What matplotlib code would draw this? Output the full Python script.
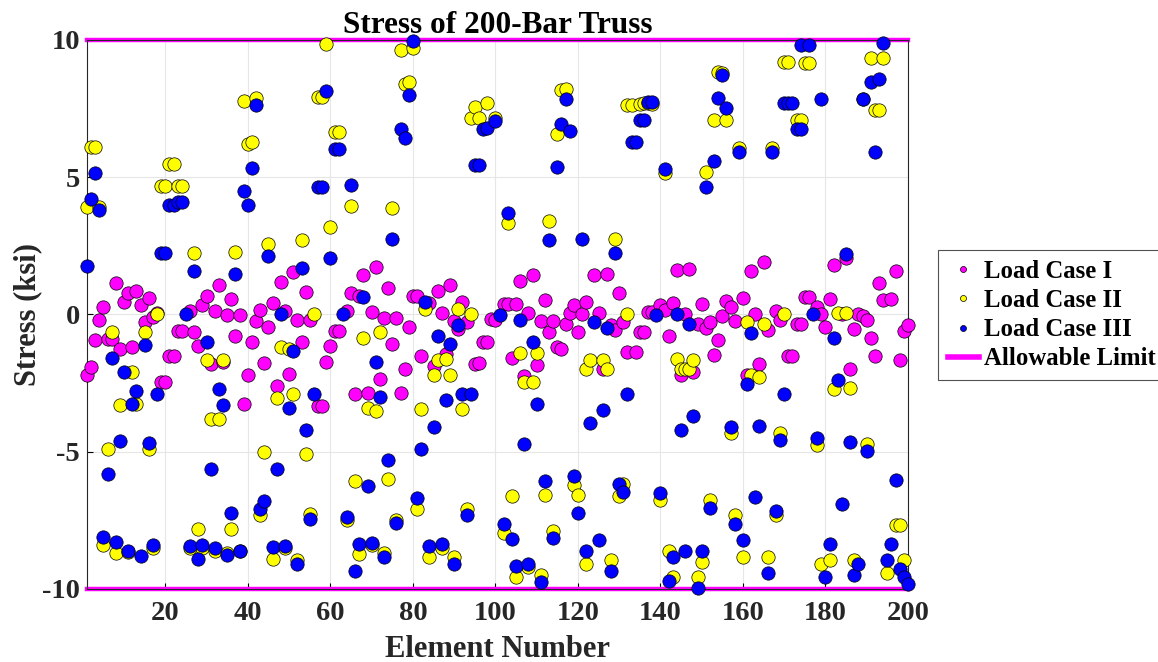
import matplotlib
matplotlib.use("Agg")
import matplotlib.pyplot as plt

plt.rcParams['font.family'] = ['Liberation Serif', 'DejaVu Serif']
plt.rcParams['font.weight'] = 'bold'
plt.rcParams['axes.unicode_minus'] = False

# Load Case I (magenta)
lc1_elem = [1, 2, 3, 4, 5, 6, 7, 8, 9, 10, 11, 12, 13, 14, 15, 16, 17, 18, 19, 20,
            21, 22, 23, 24, 26, 27, 28, 29, 30, 31, 32, 33, 34, 35, 36, 37, 38, 39, 40,
            41, 42, 43, 44, 45, 46, 47, 48, 49, 50, 51, 52, 53, 54, 55, 57, 58, 59, 60,
            61, 62, 64, 65, 66, 67, 68, 69, 70, 71, 72, 73, 74, 75, 76, 77, 78, 79, 80,
            81, 82, 84, 85, 86, 87, 88, 89, 90, 91, 92, 93, 95, 96, 97, 98, 99, 100,
            102, 103, 104, 105, 106, 107, 108, 109, 110, 111, 112, 113, 114, 115, 116,
            117, 118, 119, 120, 121, 122, 124, 125, 126, 127, 128, 129, 130, 131, 132,
            134, 135, 136, 137, 138, 140, 141, 142, 143, 144, 145, 146, 147, 148, 149,
            150, 151, 152, 153, 154, 155, 156, 157, 158, 160, 161, 162, 163, 164, 165,
            166, 168, 169, 171, 172, 173, 174, 175, 176, 178, 179, 180, 181, 182, 184,
            185, 186, 187, 188, 189, 190, 191, 192, 193, 194, 196, 197, 198, 199, 200]
lc1_stress = [-2.2, -1.93, -0.93, -0.2, 0.29, -0.9, -0.9, 1.13, -1.26, 0.46, 0.77, -1.17,
              0.86, 0.33, -0.27, 0.6, -0.1, 0.07, -2.46, -2.46, -1.5, -1.5, -0.6, -0.6,
              0.13, -0.64, -1.13, 0.33, 0.66, -1.8, 0.13, 1.06, -1.73, -0.03, 0.56, -0.8,
              -0.03, -3.25, -2.2, -1.0, -0.24, 0.16, -1.75, -0.46, 0.42, -2.6, 1.2, 0.13,
              -2.16, 1.53, -0.2, -1.02, 0.82, -0.2, -3.32, -3.32, -1.73, -1.15, -0.6, -0.6,
              0.13, 0.77, -2.9, 0.69, 1.43, -2.85, 0.09, 1.73, -2.35, -0.13, 0.95, -1.06,
              -0.13, -2.86, -1.97, -0.46, 0.66, 0.66, -1.53, 0.42, -1.89, 0.86, 0.07, -1.43,
              1.06, -0.23, -0.53, 0.46, -0.27, -1.8, -1.75, -1.0, -1.0, -0.18, -0.2,
              0.37, 0.37, -1.57, 0.37, 1.22, -2.23, 0.07, 1.43, -1.83, -0.24, 0.53, -0.64,
              -0.24, -1.2, -1.24, -0.35, 0.07, 0.33, -0.64, 0.03, 0.46, 1.43, 0.07, -1.99,
              1.46, -0.37, -0.56, 0.77, -0.27, -1.35, -1.35, -0.64, -0.64, 0.1, 0.1, 0.33,
              0.16, -0.8, 0.42, 1.62, -2.19, 0.03, 1.66, -2.1, -0.33, 0.37, -0.5, -0.27,
              -1.46, -0.93, -0.07, 0.5, 0.27, -0.24, 0.6, -2.19, 1.57, 0.03, -1.79, 1.93,
              -0.56, 0.13, -0.2, -1.5, -1.5, -0.33, -0.33, 0.64, 0.64, 0.29, 0.03, -0.46,
              0.56, 1.79, 0.0, 2.06, -1.99, -0.53, 0.03, -0.07, -0.2, -0.86, -1.53, 1.13,
              0.53, 0.56, 1.59, -1.66, -0.6, -0.4]

# Load Case II (yellow)
lc2_elem = [1, 2, 3, 4, 5, 6, 7, 8, 9, 11, 12, 13, 15, 16, 17, 18, 19, 20, 21, 22, 23, 24,
            26, 27, 28, 29, 30, 31, 32, 33, 34, 35, 36, 37, 38, 39, 40, 41, 42, 43, 44, 45,
            46, 47, 48, 49, 50, 51, 52, 53, 54, 55, 56, 57, 58, 59, 60, 61, 62, 64, 65, 66,
            67, 68, 69, 70, 71, 72, 73, 74, 75, 76, 77, 78, 79, 80, 81, 82, 83, 84, 85, 86,
            87, 88, 89, 90, 91, 92, 93, 94, 94, 95, 96, 98, 100, 102, 103, 104, 105, 106,
            107, 108, 109, 110, 111, 112, 113, 114, 115, 116, 117, 119, 120, 122, 122, 123,
            126, 127, 128, 129, 130, 131, 132, 132, 133, 135, 136, 137, 138, 140, 141, 142,
            143, 144, 145, 146, 147, 148, 149, 150, 151, 152, 153, 154, 155, 156, 157, 158,
            159, 160, 161, 162, 164, 165, 166, 167, 168, 169, 170, 170, 171, 173, 174, 175,
            176, 178, 179, 181, 182, 183, 185, 186, 187, 189, 190, 191, 192, 193, 194, 195,
            197, 198, 199]
lc2_stress = [3.9, 6.1, 6.1, 3.9, -8.4, -4.9, -0.64, -8.7, -3.3, -8.65, -2.1, -3.25, -0.64,
              -4.9, -8.5, 0.0, 4.67, 4.67, 5.5, 5.5, 4.67, 4.67,
              -8.5, 2.23, -7.8, -8.5, -1.66, -3.8, -8.6, -3.8, -1.66, -8.7, -7.8, 2.26, -8.6,
              7.77, 6.2, 6.3, 7.9, -7.3, -5.0, 2.56,
              -8.9, -3.05, -1.17, -8.5, -1.26, -2.9, -8.96, 2.7, -5.09, -7.28, 0.0, 7.93, 7.93,
              9.85, 3.19, 6.64, 6.64, -7.5, 3.96, -6.08,
              -8.72, -0.84, -3.4, -8.4, -3.5, -0.64, -8.7, -6.0, 3.88, -7.5, 9.63, 8.4, 8.47,
              9.7, -7.1, -3.43, 0.2, -8.83, -2.19, -1.66,
              -8.5, -1.62, -2.19, -8.83, 0.2, -3.43, -7.1, 7.17, 0.0, 7.57, 7.17, 7.7, 7.17,
              -7.97, 3.35, -6.61, -9.56, -1.39,
              -2.46, -9.2, -2.46, -1.39, -9.5, -6.57, 3.39, -7.9, 6.57, 8.17, 8.2, -6.21, -6.57,
              -1.97, -9.1, -1.66,
              -1.66, -1.97, -8.94, 2.75, -6.6, -6.17, 7.64, 0.0, 7.64, 7.67, 7.7, 7.7, 7.67,
              -6.77, 5.15, -8.6,
              -9.56, -1.62, -2.0, -2.0, -2.0, -1.66, -9.56, -9.03, 5.2, -6.77, 7.07, 8.83, 8.79,
              7.07, -4.32, -7.3,
              6.08, -8.83, -0.27, -2.19, -2.26, -0.33, -8.83, 6.08, -7.3, -4.32, 9.19, 0.0,
              9.19, 7.1, 7.1, 9.16,
              9.16, -4.75, -9.1, -8.96, -2.72, 0.07, 0.07, -2.68, -8.96, 7.84, -4.71, 9.36,
              7.46, 7.46, 9.36, -9.43,
              -7.68, -7.68, -8.96]

# Load Case III (blue)
lc3_elem = [1, 2, 3, 4, 5, 6, 7, 8, 9, 10, 11, 12, 13, 14, 15, 16, 17, 18, 19, 20, 21, 22,
            23, 24, 25, 26, 27, 28, 29, 30, 31, 32, 33, 34, 35, 36, 37, 38, 39, 40, 41, 42,
            43, 44, 45, 46, 47, 48, 49, 50, 51, 52, 53, 54, 55, 56, 57, 58, 59, 60, 61, 62,
            63, 64, 65, 66, 67, 68, 69, 70, 71, 72, 73, 74, 75, 76, 77, 78, 79, 80, 81, 82,
            83, 84, 85, 86, 87, 88, 89, 90, 91, 92, 93, 94, 95, 96, 97, 98, 100, 101, 102,
            103, 104, 105, 106, 107, 108, 109, 110, 111, 112, 113, 114, 115, 116, 117, 118,
            119, 120, 121, 122, 123, 124, 125, 126, 127, 128, 129, 130, 131, 132, 133, 134,
            135, 136, 137, 138, 139, 140, 141, 142, 143, 144, 145, 146, 147, 148, 149, 150,
            151, 152, 153, 154, 155, 156, 157, 158, 159, 160, 161, 162, 163, 164, 166, 167,
            168, 169, 170, 170, 171, 172, 173, 174, 174, 176, 177, 178, 179, 180, 181, 182,
            183, 184, 185, 186, 187, 188, 189, 190, 191, 192, 193, 194, 195, 196, 197, 198,
            199, 200]
lc3_stress = [1.75, 4.2, 5.15, 3.8, -8.1, -5.8, -1.6, -8.3, -4.6, -2.1, -8.6, -3.25, -2.8,
              -8.8, -1.1, -4.7, -8.4, -2.9, 2.23, 2.23, 4.0, 4.0,
              4.1, 4.1, 0.0, -8.43, 1.6, -8.9, -8.4, -1.0, -5.64, -8.5, -2.72, -3.3, -8.76,
              -7.24, 1.46, -8.63, 4.5, 4.0, 5.34, 7.64,
              -7.1, -6.8, 2.12, -8.47, -5.64, 0.03, -8.43, -3.4, -1.33, -9.1, 1.69, -4.22,
              -7.44, -2.9, 4.65, 4.65, 8.13, 2.06, 6.04, 6.04,
              0.03, -7.37, 4.71, -9.36, -8.37, 0.62, -6.24, -8.34, -1.73, -3.0, -8.83, -5.3,
              2.76, -7.6, 6.75, 6.44, 8.0, 9.96, -6.7, -4.91,
              0.46, -8.43, -4.09, -0.77, -8.37, -3.12, -1.09, -9.1, -0.37, -2.9, -7.3, -2.9,
              5.45, 5.45, 6.75, 6.8, 7.04, -0.03, -7.64,
              3.69, -8.17, -9.16, -0.2, -4.71, -9.1, -1.0, -3.25, -9.76, -6.07, 2.72, -8.14,
              5.38, 6.93, 7.84, 6.67,
              -5.87, -7.24, 2.76, -8.6, -3.96, -0.27, -8.23, -3.48, -0.5, -9.36, 2.23, -6.17,
              -6.48, -2.9, 6.27, 6.27,
              7.1, 7.1, 7.73, 7.73, -0.03, -6.5, 5.31, -9.72, -8.83, 0.0, -4.22, -8.63, -0.33,
              -3.69, -9.96, -8.63,
              4.65, -7.04, 5.58, 7.9, 8.74, 7.54, -4.09, -7.64, 5.91, -8.23, -2.55, -0.66,
              -6.64, -4.05, -9.43, 5.91,
              -7.17, -4.58, 7.7, -2.9, 7.7, 7.7, 6.75, 9.8, 6.75, 9.8, 0.0, -4.49, 7.86, -9.56,
              -8.37, -0.86,
              -2.39, -6.9, 2.19, -4.65, -9.5, -9.1, 7.84, -4.98, 8.47, 5.91, 8.57, 9.9, -8.96,
              -8.37, -6.04, -9.27,
              -9.56, -9.83]

limit_x = [1, 200]
allowable = 10

x_ticks = [20, 40, 60, 80, 100, 120, 140, 160, 180, 200]
y_ticks = [-10, -5, 0, 5, 10]

fig = plt.figure(figsize=(11.58, 6.62), dpi=100)
ax = fig.add_axes([0.0751, 0.1103, 0.709, 0.8293])

mk = dict(linestyle='none', marker='o', markersize=9.6, markeredgecolor='black',
          markeredgewidth=0.5, clip_on=False, zorder=3)
ax.plot(lc1_elem, lc1_stress, markerfacecolor='#FF00FF', label='Load Case I', **mk)
ax.plot(lc2_elem, lc2_stress, markerfacecolor='#FFFF00', label='Load Case II', **mk)
ax.plot(lc3_elem, lc3_stress, markerfacecolor='#0000FF', label='Load Case III', **mk)
ax.plot(limit_x, [allowable, allowable], color='#FF00FF', lw=3.2, clip_on=False,
        zorder=2, label='Allowable Limit')
ax.plot(limit_x, [-allowable, -allowable], color='#FF00FF', lw=3.2, clip_on=False,
        zorder=2)

ax.set_xlim(1, 200)
ax.set_ylim(-10, 10)
ax.set_xticks(x_ticks)
ax.set_yticks(y_ticks)
ax.tick_params(labelsize=20.5, direction='in', length=4, width=0.8)
ax.tick_params(axis='x', pad=9)
ax.tick_params(axis='y', pad=5)
for lab in ax.get_xticklabels() + ax.get_yticklabels():
    lab.set_fontweight('bold')
    lab.set_color('#262626')
ax.grid(True, color='#e6e6e6', lw=0.8)
ax.set_axisbelow(True)
for s in ax.spines.values():
    s.set_linewidth(0.8)
    s.set_color('#262626')

ax.set_title('Stress of 200-Bar Truss', fontsize=22.5, fontweight='bold', pad=2)
ax.set_xlabel('Element Number', fontsize=22, fontweight='bold', labelpad=6,
              color='#262626')
ax.set_ylabel('Stress (ksi)', fontsize=22, fontweight='bold', labelpad=0,
              color='#262626')

leg = fig.legend(loc='upper left', bbox_to_anchor=(938 / 1158, 1 - 250 / 662),
                 borderaxespad=0, frameon=True, fancybox=False, edgecolor='#262626',
                 prop={'weight': 'bold', 'size': 17.8}, markerscale=0.45,
                 handlelength=1.25, handletextpad=0.2, borderpad=0.4,
                 labelspacing=0.25)
leg.get_frame().set_linewidth(0.8)
leg.get_lines()[3].set_linewidth(4)

fig.savefig('out.png', dpi=100)
